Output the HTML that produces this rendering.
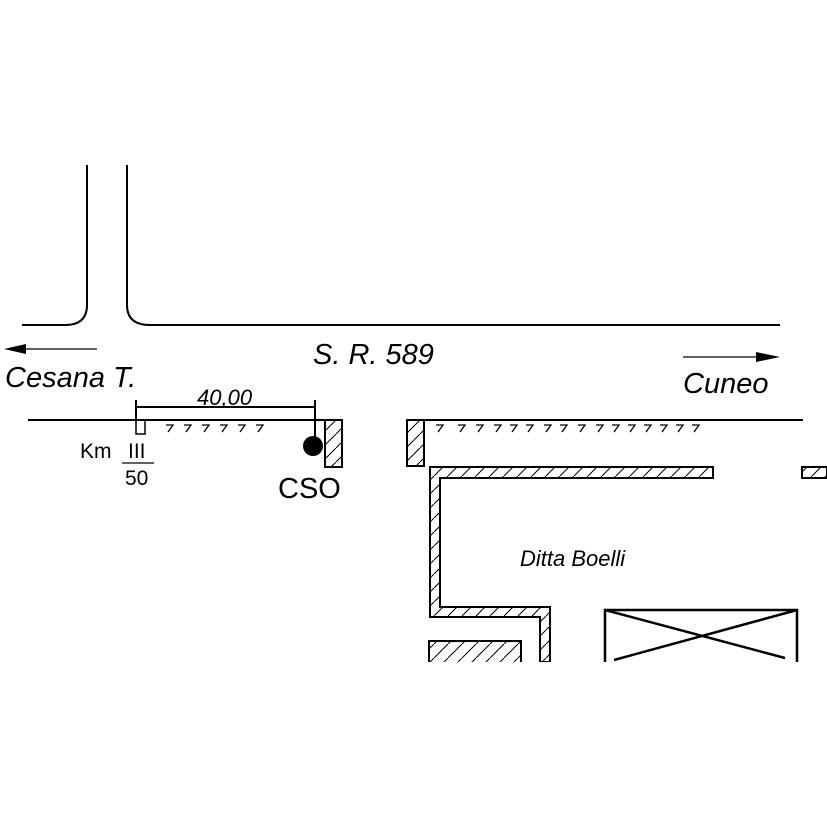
<!DOCTYPE html>
<html><head><meta charset="utf-8"><style>
html,body{margin:0;padding:0;background:#fff;}
svg{display:block;}
text{font-family:"Liberation Sans",sans-serif;fill:#000;}
</style></head><body>
<svg width="827" height="827" viewBox="0 0 827 827" xmlns="http://www.w3.org/2000/svg">
<defs>
<pattern id="h" patternUnits="userSpaceOnUse" width="14" height="14">
<path d="M-2,16 L16,-2" stroke="#000" stroke-width="1"/>
</pattern>
</defs>
<g fill="none" stroke="#000" stroke-width="2">
<path d="M87,165 V305 Q87,325 65,325 H22"/>
<path d="M127,165 V305 Q127,325 150,325 H780"/>
<path d="M28,420 H342"/>
<path d="M408,420 H803"/>
</g>
<g stroke="#000" stroke-width="1.2">
<line x1="12" y1="349" x2="97" y2="349"/>
<line x1="683" y1="357" x2="768" y2="357"/>
</g>
<polygon points="4,349 26,344 26,354" fill="#000"/>
<polygon points="780,357 756,352 756,362" fill="#000"/>
<text x="313" y="364" font-size="29" font-style="italic">S. R. 589</text>
<text x="5" y="387" font-size="29" font-style="italic">Cesana T.</text>
<text x="683" y="393" font-size="29" font-style="italic">Cuneo</text>
<g stroke="#000" stroke-width="2" fill="none">
<line x1="136" y1="400" x2="136" y2="420"/>
<line x1="136" y1="407" x2="315" y2="407"/>
<line x1="315" y1="400" x2="315" y2="446"/>
<rect x="136" y="420" width="9" height="14" stroke-width="1.5"/>
</g>
<text x="197" y="405" font-size="22" font-style="italic">40,00</text>
<g stroke="#000" stroke-width="1.3" fill="none">
<path d="M166,425 h7 l-5,7 M184,425 h7 l-5,7 M202,425 h7 l-5,7 M220,425 h7 l-5,7 M238,425 h7 l-5,7 M256,425 h7 l-5,7"/>
<path d="M436,425 h7 l-5,7 M458,425 h7 l-5,7 M476,425 h7 l-5,7 M494,425 h7 l-5,7 M510,425 h7 l-5,7 M526,425 h7 l-5,7 M544,425 h7 l-5,7 M560,425 h7 l-5,7 M578,425 h7 l-5,7 M596,425 h7 l-5,7 M612,425 h7 l-5,7 M628,425 h7 l-5,7 M644,425 h7 l-5,7 M660,425 h7 l-5,7 M676,425 h7 l-5,7 M692,425 h7 l-5,7"/>
</g>
<circle cx="313" cy="446" r="10" fill="#000"/>
<g stroke="#000" stroke-width="2" fill="url(#h)">
<rect x="325" y="420" width="17" height="47"/>
<rect x="407" y="420" width="17" height="46"/>
<path d="M430,467 H713 V478 H440 V607 H550 V662 H540 V617 H430 Z"/>
<path d="M802,478 V467 H827 V478 Z"/>
<path d="M429,662 V641 H521 V662"/>
</g>
<rect x="0" y="662" width="827" height="10" fill="#fff"/>
<g stroke="#000" stroke-width="2.5" fill="none">
<path d="M605,662 V610 H797 V662"/>
<line x1="605" y1="610" x2="785" y2="658"/>
<line x1="797" y1="610" x2="614" y2="660"/>
</g>
<text x="80" y="458" font-size="21">Km</text>
<text x="128" y="458" font-size="21">III</text>
<line x1="122" y1="463" x2="154" y2="463" stroke="#000" stroke-width="1.2"/>
<text x="125" y="485" font-size="21">50</text>
<text x="278" y="498" font-size="29">CSO</text>
<text x="520" y="566" font-size="22" font-style="italic">Ditta Boelli</text>
</svg>
</body></html>
